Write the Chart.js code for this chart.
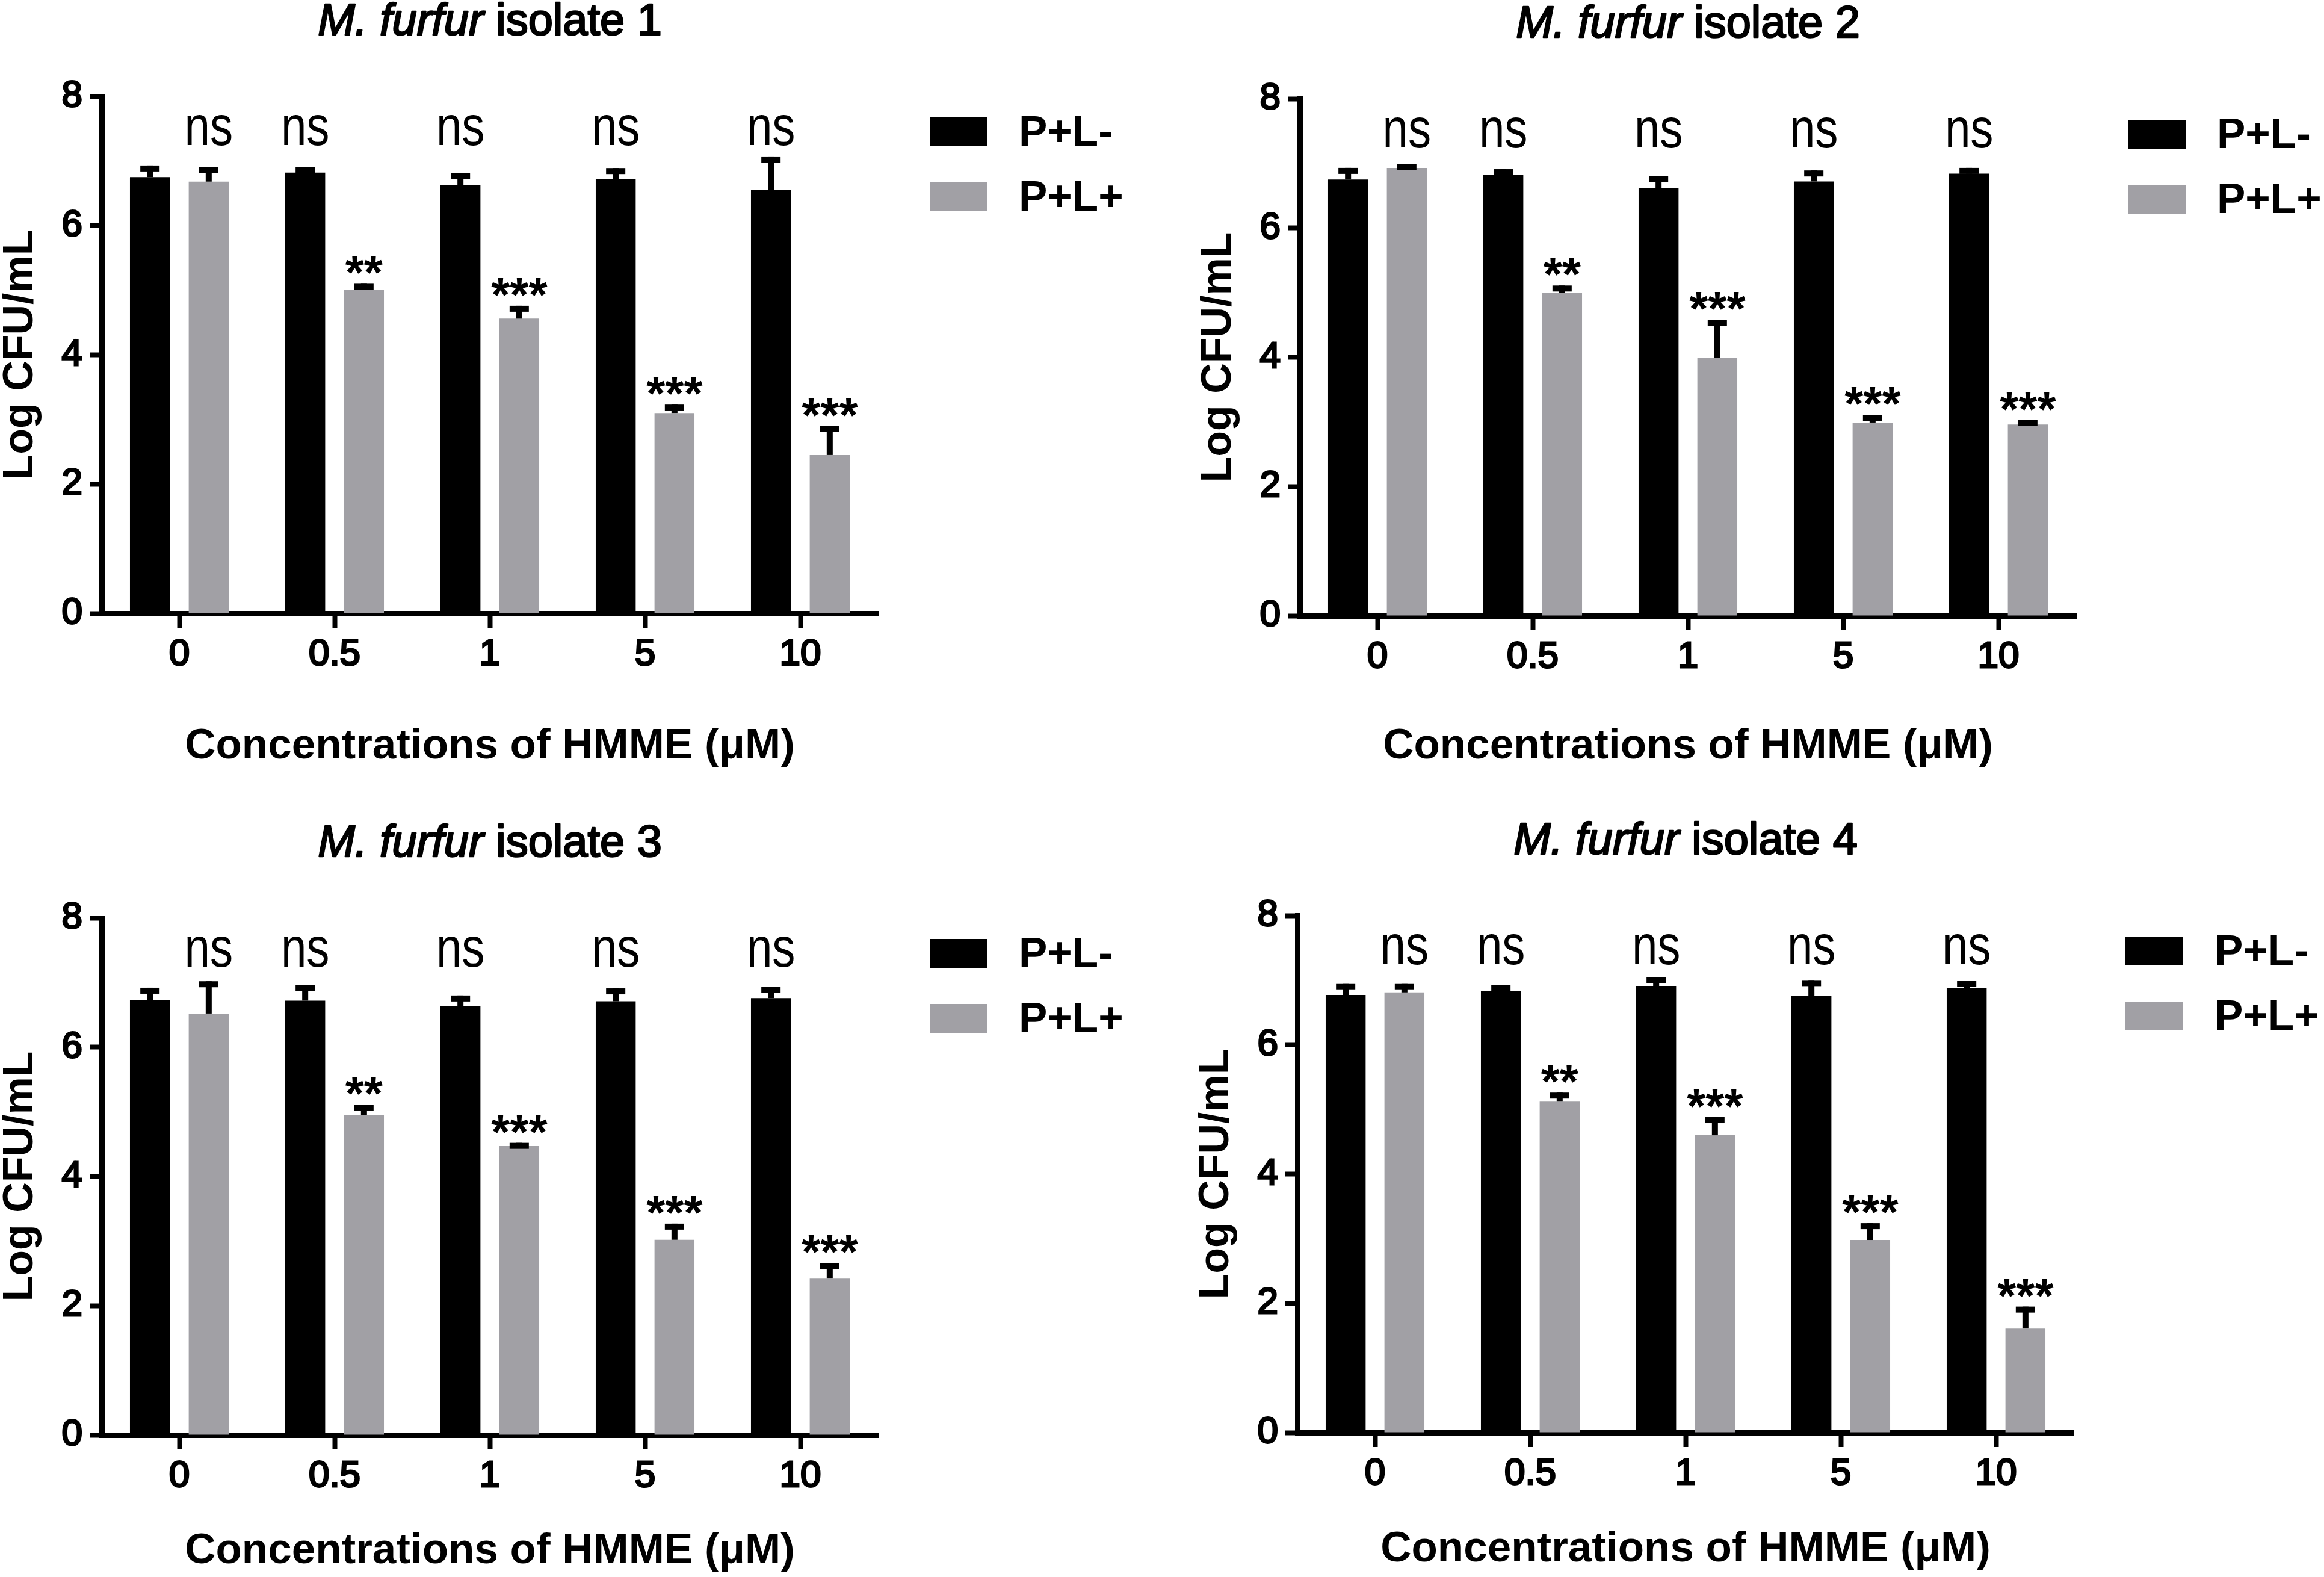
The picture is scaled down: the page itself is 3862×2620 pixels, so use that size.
<!DOCTYPE html>
<html>
<head>
<meta charset="utf-8">
<script src="https://cdn.jsdelivr.net/npm/chart.js@4.4.1/dist/chart.umd.min.js"></script>
<style>
  html, body { margin: 0; padding: 0; background: #fff; overflow: hidden; width: 3862px; height: 2620px; }
  canvas { position: absolute; }
</style>
</head>
<body>
<canvas id="iso1"></canvas>
<canvas id="iso2"></canvas>
<canvas id="iso3"></canvas>
<canvas id="iso4"></canvas>
<script>
// ---- data ----
const concentrations = ['0', '0.5', '1', '5', '10'];
const seriesLabels = ['P+L-', 'P+L+'];

const iso1Dark     = [6.75, 6.82, 6.63, 6.72, 6.55];
const iso1DarkErr  = [0.18, 0.09, 0.18, 0.17, 0.51];
const iso1Light    = [6.68, 5.01, 4.56, 3.10, 2.45];
const iso1LightErr = [0.23, 0.09, 0.20, 0.13, 0.45];

const iso2Dark     = [6.75, 6.82, 6.62, 6.72, 6.84];
const iso2DarkErr  = [0.18, 0.09, 0.18, 0.17, 0.09];
const iso2Light    = [6.93, 5.00, 3.99, 2.99, 2.96];
const iso2LightErr = [0.06, 0.11, 0.59, 0.12, 0.07];

const iso3Dark     = [6.73, 6.72, 6.63, 6.71, 6.76];
const iso3DarkErr  = [0.19, 0.24, 0.17, 0.20, 0.17];
const iso3Light    = [6.52, 4.95, 4.47, 3.02, 2.42];
const iso3LightErr = [0.50, 0.16, 0.05, 0.25, 0.24];

const iso4Dark     = [6.77, 6.83, 6.91, 6.76, 6.88];
const iso4DarkErr  = [0.18, 0.09, 0.14, 0.24, 0.11];
const iso4Light    = [6.81, 5.12, 4.60, 2.98, 1.61];
const iso4LightErr = [0.14, 0.14, 0.28, 0.26, 0.34];

const nsMarks   = ['ns', 'ns', 'ns', 'ns', 'ns'];
const starMarks = ['', '**', '***', '***', '***'];
const nsLevel = 7.25;   // baseline of the "ns" row, in axis units

const FONT = 'Liberation Sans, Arial, Helvetica, sans-serif';
Chart.defaults.font.family = FONT;
Chart.defaults.color = '#000';

// canvas placement on the page (layout only)
const panels = [
  { id: 'iso1', name: 'isolate 1', left: 0,    top: 0,    h: 1300, titlePad: 24, dark: iso1Dark, darkErr: iso1DarkErr, light: iso1Light, lightErr: iso1LightErr },
  { id: 'iso2', name: 'isolate 2', left: 1991, top: 4,    h: 1300, titlePad: 28, dark: iso2Dark, darkErr: iso2DarkErr, light: iso2Light, lightErr: iso2LightErr },
  { id: 'iso3', name: 'isolate 3', left: 0,    top: 1365, h: 1255, titlePad: 7,  dark: iso3Dark, darkErr: iso3DarkErr, light: iso3Light, lightErr: iso3LightErr },
  { id: 'iso4', name: 'isolate 4', left: 1987, top: 1361, h: 1255, titlePad: 6,  dark: iso4Dark, darkErr: iso4DarkErr, light: iso4Light, lightErr: iso4LightErr }
];

const W = 1870, AXIS_LEFT = 169, AXIS_TOP = 160, PLOT_H = 859, PLOT_W = 1290;

function panelPlugin(p) {
  return {
    id: 'panelExtras',
    afterDatasetsDraw(chart) {
      // upper error bars with caps
      const ctx = chart.ctx, y = chart.scales.y;
      ctx.save();
      ctx.fillStyle = '#000';
      chart.data.datasets.forEach((ds, i) => {
        chart.getDatasetMeta(i).data.forEach((bar, j) => {
          const top = y.getPixelForValue(ds.data[j] + ds.errors[j]);
          ctx.fillRect(bar.x - 5, top, 10, bar.y - top);
          ctx.fillRect(bar.x - 16, top, 32, 10);
        });
      });
      ctx.restore();
    },
    afterDraw(chart) {
      const ctx = chart.ctx, y = chart.scales.y, area = chart.chartArea;
      const darkMeta = chart.getDatasetMeta(0), lightMeta = chart.getDatasetMeta(1);
      const light = chart.data.datasets[1];
      ctx.save();
      ctx.fillStyle = '#000';
      ctx.strokeStyle = '#000';
      ctx.lineJoin = 'round';

      // "ns" row (narrow face)
      ctx.font = '93px ' + FONT;
      ctx.textAlign = 'center';
      ctx.textBaseline = 'alphabetic';
      nsMarks.forEach((t, j) => {
        const bar = (j === 0 ? lightMeta : darkMeta).data[j];
        ctx.save();
        ctx.translate(bar.x, y.getPixelForValue(nsLevel));
        ctx.scale(0.82, 1);
        ctx.fillText(t, 0, 0);
        ctx.restore();
      });

      // significance stars over the P+L+ bars
      ctx.font = 'bold 80px ' + FONT;
      starMarks.forEach((t, j) => {
        if (!t) return;
        const bar = lightMeta.data[j];
        const top = y.getPixelForValue(light.data[j] + light.errors[j]);
        ctx.fillText(t, bar.x, top + 9);
      });

      // title: italic genus + plain isolate
      const cx = (area.left + area.right) / 2, ty = area.top - 102;
      const italic = 'italic 74px ' + FONT, plain = '74px ' + FONT;
      const a = 'M. furfur', b = ' ' + p.name;
      ctx.font = italic; const wa = ctx.measureText(a).width;
      ctx.font = plain;  const wb = ctx.measureText(b).width;
      ctx.textAlign = 'left';
      ctx.lineWidth = 2.5;
      let x0 = cx - (wa + wb) / 2;
      ctx.font = italic; ctx.fillText(a, x0, ty); ctx.strokeText(a, x0, ty);
      ctx.font = plain;  ctx.fillText(b, x0 + wa, ty); ctx.strokeText(b, x0 + wa, ty);

      // legend
      ctx.font = 'bold 71px ' + FONT;
      chart.data.datasets.forEach((ds, i) => {
        const bx = area.right + 86, by = area.top + 35 + i * 108;
        ctx.fillStyle = ds.backgroundColor;
        ctx.fillRect(bx, by, 96, 48);
        ctx.fillStyle = '#000';
        ctx.fillText(ds.label, bx + 148, by + 47);
      });
      ctx.restore();
    }
  };
}

panels.forEach(p => {
  const el = document.getElementById(p.id);
  el.width = W; el.height = p.h;
  el.style.left = p.left + 'px'; el.style.top = p.top + 'px';
  el.style.width = W + 'px'; el.style.height = p.h + 'px';

  new Chart(el, {
    type: 'bar',
    data: {
      labels: concentrations,
      datasets: [
        { label: seriesLabels[0], data: p.dark,  errors: p.darkErr,  backgroundColor: '#000000' },
        { label: seriesLabels[1], data: p.light, errors: p.lightErr, backgroundColor: '#a1a0a5' }
      ]
    },
    options: {
      responsive: false,
      animation: false,
      devicePixelRatio: 1,
      categoryPercentage: 0.757,
      barPercentage: 0.68,
      layout: { padding: { top: AXIS_TOP, right: W - AXIS_LEFT - PLOT_W, bottom: 0, left: 0 } },
      plugins: { legend: { display: false }, tooltip: { enabled: false } },
      scales: {
        x: {
          offset: true,
          grid: { display: true, offset: false, drawOnChartArea: false, drawTicks: true, tickLength: 24, tickWidth: 8, tickColor: '#000' },
          border: { display: true, width: 9, color: '#000' },
          ticks: { font: { size: 62 }, padding: 8, color: '#000', maxRotation: 0, textStrokeColor: '#000', textStrokeWidth: 3 },
          title: { display: true, text: 'Concentrations of HMME (\u03bcM)', font: { size: 71, weight: 'bold', lineHeight: 1 }, padding: { top: 0, bottom: p.titlePad }, color: '#000' },
          afterFit(scale) { scale.height = p.h - AXIS_TOP - PLOT_H; }
        },
        y: {
          min: 0, max: 8,
          ticks: { stepSize: 2, font: { size: 62 }, padding: 12, color: '#000', textStrokeColor: '#000', textStrokeWidth: 3 },
          grid: { display: true, drawOnChartArea: false, drawTicks: true, tickLength: 20, tickWidth: 8, tickColor: '#000' },
          border: { display: true, width: 9, color: '#000' },
          title: { display: true, text: 'Log CFU/mL', font: { size: 70, weight: 'bold', lineHeight: 1 }, padding: 0, color: '#000' },
          afterFit(scale) { scale.width = AXIS_LEFT; }
        }
      }
    },
    plugins: [panelPlugin(p)]
  });
});
</script>
</body>
</html>
